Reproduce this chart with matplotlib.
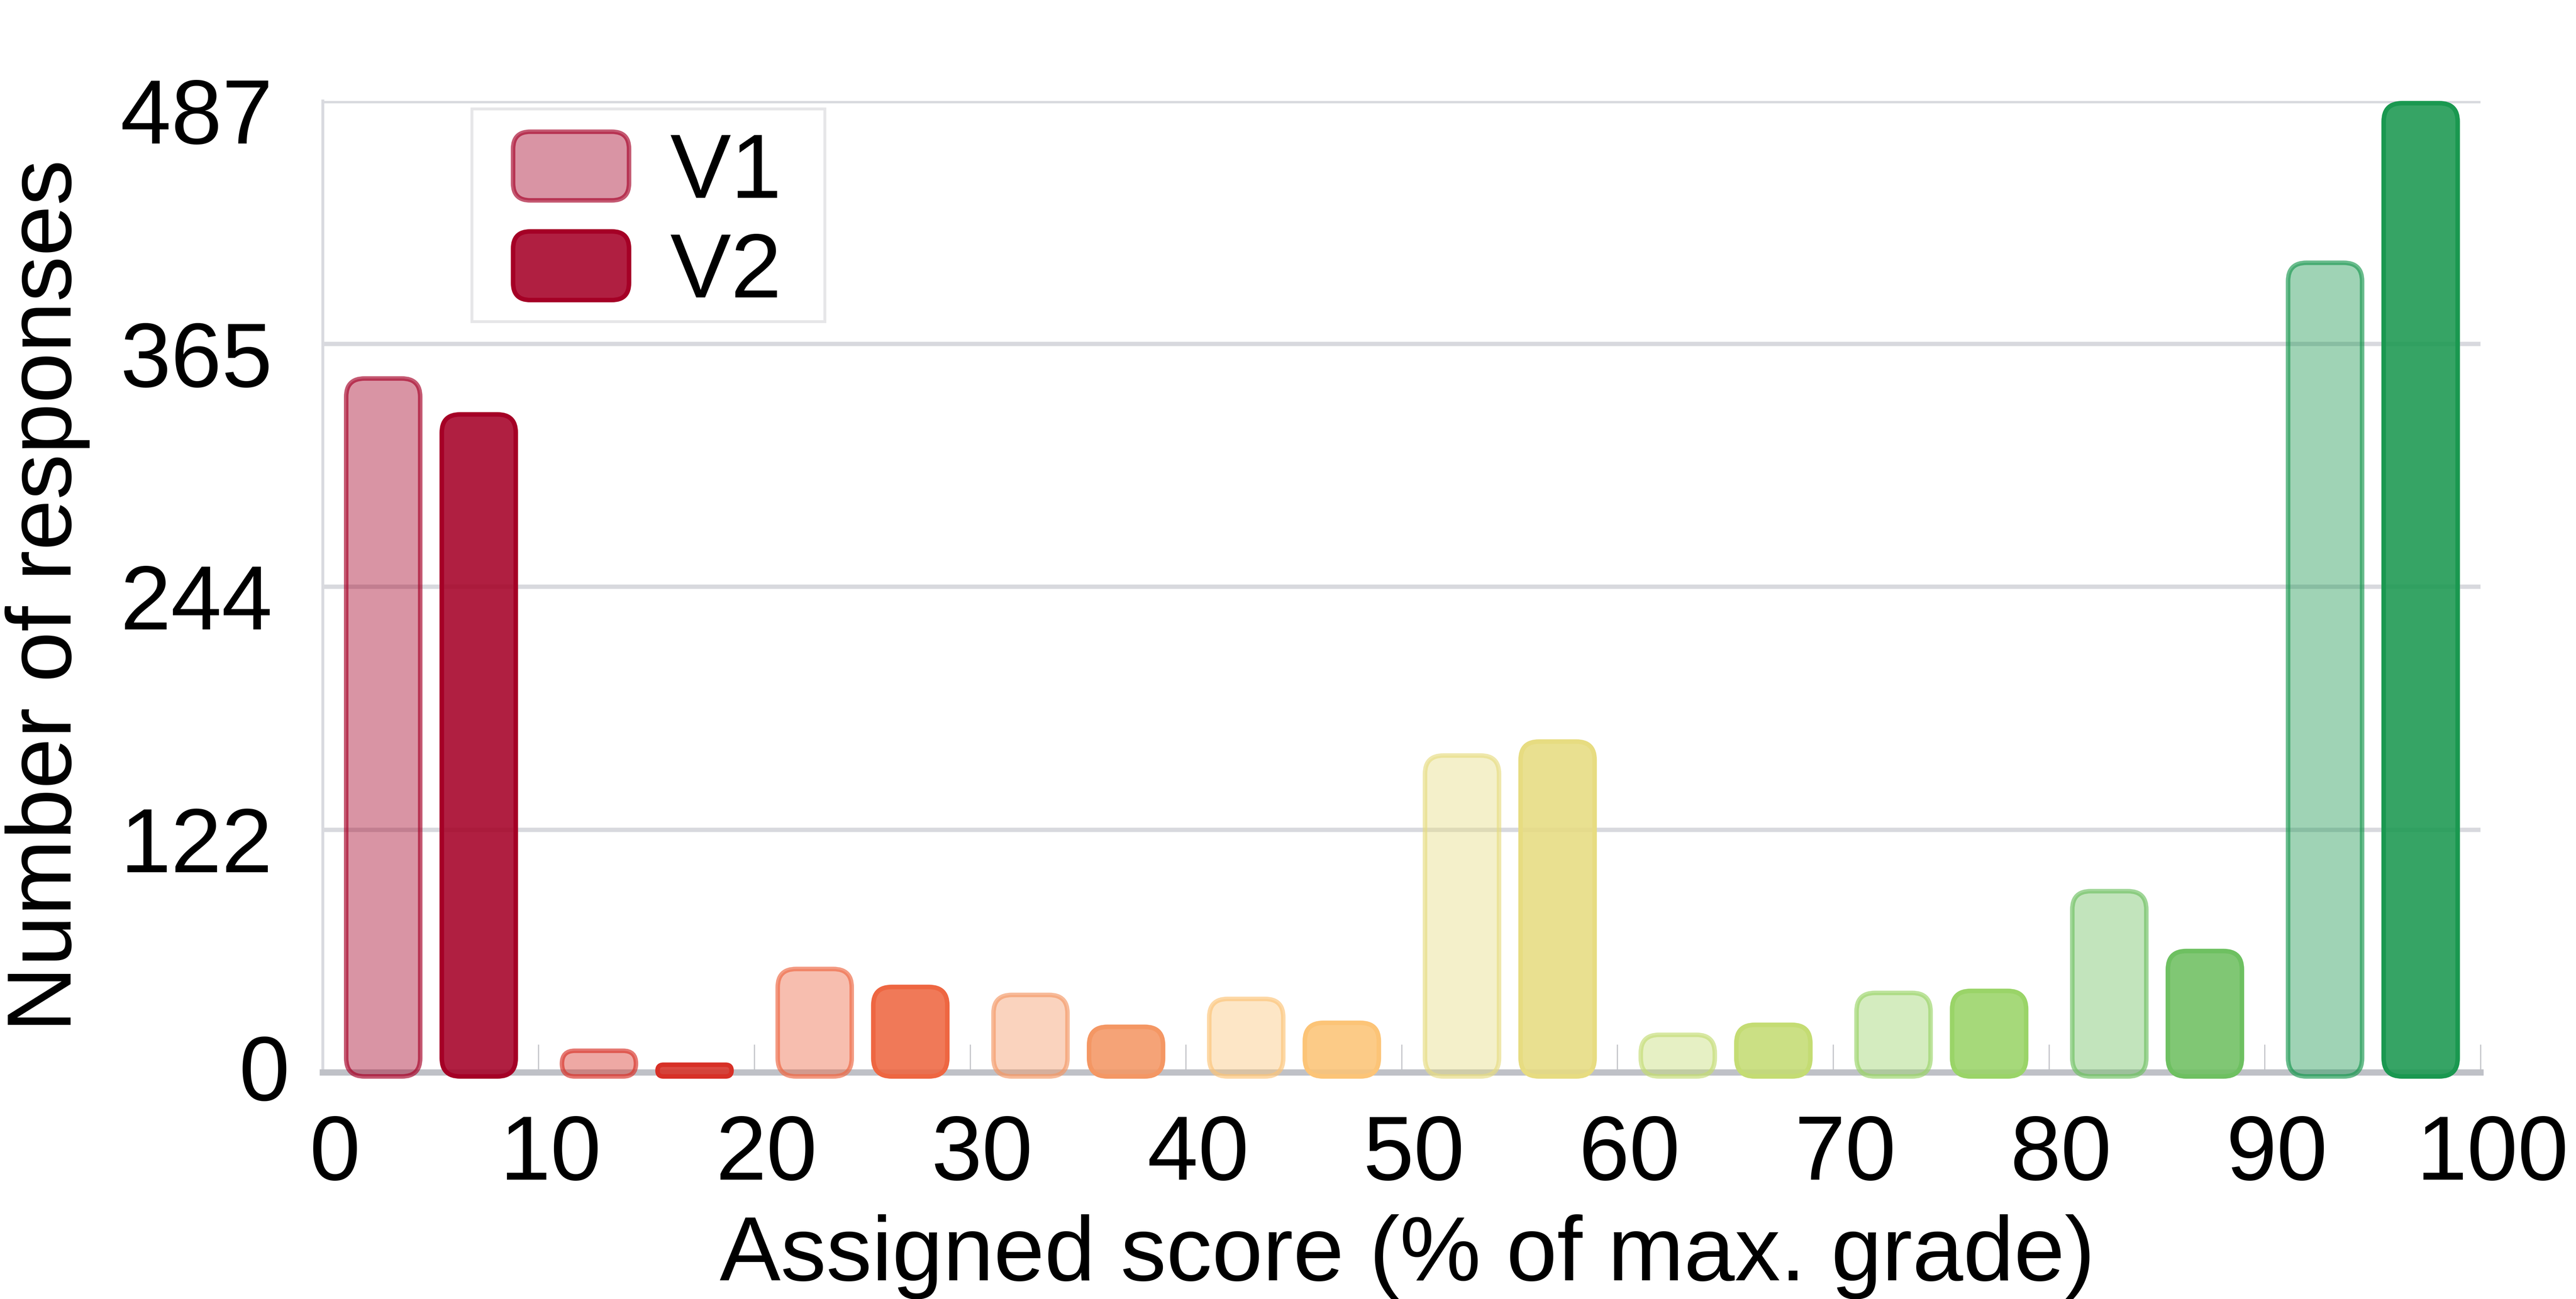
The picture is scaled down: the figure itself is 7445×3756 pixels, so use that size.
import matplotlib
matplotlib.use("Agg")
import matplotlib.pyplot as plt
import numpy as np
from matplotlib.patches import FancyBboxPatch, Rectangle
from matplotlib.legend_handler import HandlerPatch
from matplotlib.transforms import ScaledTranslation
from matplotlib.colors import to_rgba

# data
bin_starts = [0, 10, 20, 30, 40, 50, 60, 70, 80, 90]
v1_counts = [349, 12, 53, 40, 38, 160, 20, 41, 92, 407]
v2_counts = [331, 5, 44, 24, 26, 167, 25, 42, 62, 487]
series_names = ["V1", "V2"]
x_ticks = [0, 10, 20, 30, 40, 50, 60, 70, 80, 90, 100]
y_max = 487
x_label = "Assigned score (% of max. grade)"
y_label = "Number of responses"

# one base colour per bin (red -> yellow -> green)
bin_colors = ["#A50026", "#D73027", "#EE6641", "#F49764", "#FCC477",
              "#E7DC81", "#C4DC73", "#9AD468", "#6EC061", "#1A9850"]

plt.rcParams["font.family"] = ["Liberation Sans", "DejaVu Sans"]
FS = 190

W, H, DPI = 74.45, 37.56, 100
fig = plt.figure(figsize=(W, H), dpi=DPI)
ax_rect = [0.1253, 0.1744, 0.8376, 0.7479]
ax = fig.add_axes(ax_rect)
ax.set_xlim(0, 100)
ax.set_ylim(0, y_max)

ax_w_px = ax_rect[2] * W * DPI
ax_h_px = ax_rect[3] * H * DPI
x_per_px = 100 / ax_w_px
y_per_px = y_max / ax_h_px
m_aspect = y_per_px / x_per_px

bar_w = 3.43
edge_lw = 9.4
edge_half = edge_lw / 72 * DPI / 2 * y_per_px
bottom = -2.0


def rounded_bar(xc, value, face, edge):
    h = value - edge_half - bottom
    r = min(0.85, bar_w / 2, h / m_aspect / 2)
    p = FancyBboxPatch((xc - bar_w / 2, bottom), bar_w, h,
                       boxstyle=f"round,pad=0,rounding_size={r}",
                       mutation_aspect=m_aspect, facecolor=face,
                       edgecolor=edge, linewidth=edge_lw,
                       clip_on=False, zorder=3)
    ax.add_patch(p)
    return p


handles = []
for i, (b, c) in enumerate(zip(bin_starts, bin_colors)):
    p1 = rounded_bar(b + 2.8, v1_counts[i], to_rgba(c, 0.42), to_rgba(c, 0.65))
    p2 = rounded_bar(b + 7.23, v2_counts[i], to_rgba(c, 0.88), to_rgba(c, 1.0))
    if i == 0:
        handles = [p1, p2]

# axes styling
y_ticks = np.linspace(0, y_max, 5)
ax.set_yticks(y_ticks)
ax.set_yticklabels([str(int(round(v))) for v in y_ticks])
ax.set_xticks(x_ticks)
ax.set_xticklabels([str(v) for v in x_ticks])
ax.set_axisbelow(True)
ax.yaxis.grid(True, color="#D8D9DE", linewidth=9)
for s in ["top", "right"]:
    ax.spines[s].set_visible(False)
ax.spines["left"].set_color("#D9DADF")
ax.spines["left"].set_linewidth(6)
ax.spines["bottom"].set_color("#BFC1C7")
ax.spines["bottom"].set_linewidth(13)

ax.tick_params(axis="x", direction="in", length=58, width=2.5,
               color="#C4C5CA", pad=86, labelsize=FS)
ax.tick_params(axis="y", length=0, pad=104, labelsize=FS)

for t in ax.xaxis.get_major_ticks():
    t.label1.set_transform(t.label1.get_transform()
                           + ScaledTranslation(0.35, 0, fig.dpi_scale_trans))
for i, t in enumerate(ax.yaxis.get_major_ticks()):
    dx, dy = (0.49, 0.15) if i == 0 else (0, -0.28)
    t.label1.set_transform(t.label1.get_transform()
                           + ScaledTranslation(dx, dy, fig.dpi_scale_trans))

fig.text(0.5464, 0.01438, x_label, fontsize=FS, ha="center", va="baseline")
fig.text(0.02753, 0.5413, y_label, fontsize=FS, rotation=90,
         rotation_mode="anchor", ha="center", va="baseline")


# legend with rounded patches
def legend_patch(legend, orig_handle, xdescent, ydescent, width, height, fontsize):
    return FancyBboxPatch((-xdescent, -ydescent), width, height,
                          boxstyle=f"round,pad=0,rounding_size={height * 0.25}")


ax.add_patch(Rectangle((0.0691, 0.7729), 0.1636, 0.2189, transform=ax.transAxes,
                       facecolor="white", edgecolor="#E6E6E8", linewidth=6,
                       zorder=4))
ax.legend(handles, series_names, loc="upper left",
          bbox_to_anchor=(0.0882, 0.9683), borderaxespad=0, borderpad=0,
          frameon=False, fontsize=FS, handlelength=1.27, handleheight=0.78,
          handletextpad=0.45, labelspacing=0.16,
          handler_map={FancyBboxPatch: HandlerPatch(patch_func=legend_patch)})

fig.savefig("out.png", dpi=DPI)
